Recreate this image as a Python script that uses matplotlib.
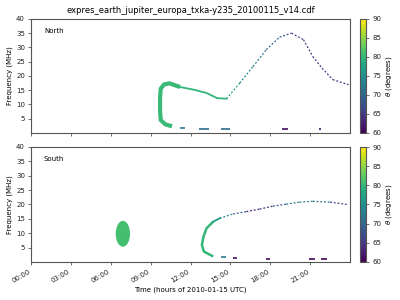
import numpy as np
import matplotlib.pyplot as plt
import matplotlib as mpl
from matplotlib.collections import LineCollection
from matplotlib.patches import Ellipse

plt.rcParams['font.size'] = 5
plt.rcParams['axes.edgecolor'] = '#555555'
plt.rcParams['xtick.color'] = '#555555'
plt.rcParams['ytick.color'] = '#555555'
plt.rcParams['xtick.labelcolor'] = '#222222'
plt.rcParams['ytick.labelcolor'] = '#222222'

# north hemisphere arc: time (h), frequency (MHz), theta (deg)
north_t = [10.6, 10.1, 9.75, 9.7, 9.7, 9.75, 10.0, 10.4, 11.2, 12.2, 13.2, 14.0, 14.7,
           15.7, 16.7, 17.7, 18.7, 19.6, 20.5, 21.2, 21.9, 22.7, 23.9]
north_f = [2.3, 3.0, 4.5, 8.0, 12.0, 15.5, 17.0, 17.4, 16.1, 15.2, 14.0, 12.2, 12.0,
           17.5, 23.3, 29.2, 33.6, 35.0, 32.7, 26.8, 22.7, 18.7, 16.9]
north_theta = [78, 80, 81, 81, 81, 81, 81, 80, 80, 80, 80, 80, 79,
               75, 73, 71, 68, 66, 65, 65, 65, 65, 65]
north_wide = 8   # segments drawn wide (thick emission)
north_mid = 12   # segments drawn medium

# short low-frequency pieces: start (h), end (h), freq, theta
north_dash_t0 = [11.2, 12.6, 14.3, 18.9, 21.7]
north_dash_t1 = [11.6, 13.4, 15.0, 19.3, 21.8]
north_dash_f = [1.8, 1.5, 1.5, 1.5, 1.2]
north_dash_theta = [73, 70, 70, 61, 61]

south_t = [13.7, 13.0, 12.85, 12.97, 13.2, 13.7, 14.2, 15.2, 16.2, 17.2, 18.2,
           19.2, 20.2, 21.2, 22.5, 23.75]
south_f = [1.9, 3.6, 5.9, 8.8, 11.7, 14.0, 15.2, 16.7, 17.5, 18.4, 19.4,
           20.1, 20.8, 21.1, 20.8, 20.0]
south_theta = [79, 80, 81, 81, 80, 78, 75, 72, 64, 62, 66, 70, 72, 73, 70, 62]
south_wide = 5
south_mid = 6

south_dash_t0 = [14.3, 15.2, 17.7, 20.9, 21.8]
south_dash_t1 = [14.7, 15.5, 18.0, 21.4, 22.3]
south_dash_f = [1.7, 1.2, 1.0, 1.0, 1.0]
south_dash_theta = [72, 61, 61, 60, 60]

# south blob (emission region at ~7h)
blob_t, blob_f = 6.9, 9.8
blob_dt, blob_df = 1.08, 9.0
blob_theta = 81

hour_ticks = [0, 3, 6, 9, 12, 15, 18, 21]
cmap = mpl.colormaps['viridis']
norm = mpl.colors.Normalize(60, 90)

fig = plt.figure(figsize=(4, 3), dpi=100)
ax1 = fig.add_axes([0.078, 0.557, 0.797, 0.38])
ax2 = fig.add_axes([0.078, 0.127, 0.797, 0.383])
cax1 = fig.add_axes([0.9, 0.557, 0.015, 0.38])
cax2 = fig.add_axes([0.9, 0.127, 0.015, 0.383])


def draw_arc(ax, t, f, th, nwide, nmid, lwide):
    t, f, th = np.array(t), np.array(f), np.array(th)
    # thick low part: one smooth stroke
    ax.plot(t[:nwide + 1], f[:nwide + 1], color=cmap(norm(th[:nwide + 1].mean())),
            lw=lwide, solid_joinstyle='round', solid_capstyle='butt')
    ax.plot(t[nwide:nmid + 1], f[nwide:nmid + 1], color=cmap(norm(th[nwide:nmid + 1].mean())),
            lw=1.3, solid_joinstyle='round')
    pts = np.column_stack([t, f])
    segs = np.stack([pts[:-1], pts[1:]], axis=1)[nmid:]
    cols = cmap(norm((th[:-1] + th[1:]) / 2))[nmid:]
    ax.add_collection(LineCollection(segs, colors=cols, linewidths=0.9,
                                     linestyles=[(0, (1.5, 1.5))]))


draw_arc(ax1, north_t, north_f, north_theta, north_wide, north_mid, 3.0)
ax1.hlines(north_dash_f, north_dash_t0, north_dash_t1,
           colors=cmap(norm(north_dash_theta)), lw=1.2)
draw_arc(ax2, south_t, south_f, south_theta, south_wide, south_mid, 1.8)
ax2.hlines(south_dash_f, south_dash_t0, south_dash_t1,
           colors=cmap(norm(south_dash_theta)), lw=1.2)
ax2.add_patch(Ellipse((blob_t, blob_f), blob_dt, blob_df,
                      color=cmap(norm(blob_theta)), lw=0))

for ax, name in [(ax1, 'North'), (ax2, 'South')]:
    ax.set_xlim(0, 24)
    ax.set_ylim(0, 40)
    ax.set_yticks([5, 10, 15, 20, 25, 30, 35, 40])
    ax.set_xticks(hour_ticks)
    ax.set_ylabel('Frequency (MHz)', labelpad=2)
    ax.text(0.04, 0.88, name, transform=ax.transAxes)
    ax.tick_params(length=2.5, width=0.6, pad=2)

ax1.set_xticklabels([])
ax2.set_xticklabels(['%02d:00' % h for h in hour_ticks], rotation=30, ha='right')
ax2.set_xlabel('Time (hours of 2010-01-15 UTC)', labelpad=2)
ax1.set_title('expres_earth_jupiter_europa_txka-y235_20100115_v14.cdf', fontsize=6, pad=4)

for cax in [cax1, cax2]:
    cb = fig.colorbar(mpl.cm.ScalarMappable(norm=norm, cmap=cmap), cax=cax)
    cb.set_ticks([60, 65, 70, 75, 80, 85, 90])
    cb.set_label(r'$\theta$ (degrees)', labelpad=2)
    cb.ax.tick_params(length=2.5, width=0.6, pad=2)

fig.savefig('out.png', dpi=100)
